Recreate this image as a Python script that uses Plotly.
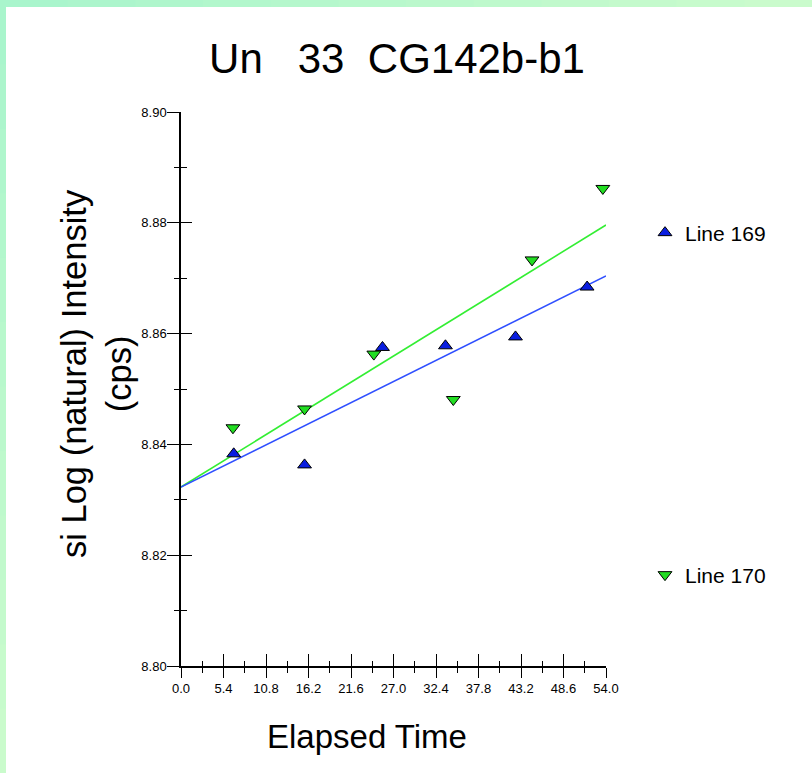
import plotly.graph_objects as go

# ---- data ----
x_line169 = [6.7, 15.7, 25.6, 33.6, 42.5, 51.6]
y_line169 = [8.8383, 8.8363, 8.8575, 8.8578, 8.8594, 8.8684]
x_line170 = [6.6, 15.7, 24.5, 34.6, 44.6, 53.6]
y_line170 = [8.8430, 8.8464, 8.8563, 8.8481, 8.8733, 8.8862]
fit_x = [0.0, 54.0]
fit_line169 = [8.8323, 8.8704]
fit_line170 = [8.8323, 8.8796]
x_range = [0.0, 54.0]
y_range = [8.80, 8.90]
x_dtick = 5.4
y_dtick = 0.02

W, H = 812, 773
L, R, T, B = 181, 206, 112, 107
PW, PH = W - L - R, H - T - B


def px(xp):
    return (xp - L) / PW


def py(yp):
    return (H - B - yp) / PH


FONT = "Liberation Sans, Arial, sans-serif"

fig = go.Figure()

fig.add_trace(go.Scatter(x=fit_x, y=fit_line170, mode="lines",
                         line=dict(color="#33ee33", width=1.6),
                         showlegend=False, hoverinfo="skip"))
fig.add_trace(go.Scatter(x=fit_x, y=fit_line169, mode="lines",
                         line=dict(color="#2f4fff", width=1.6),
                         showlegend=False, hoverinfo="skip"))
fig.add_trace(go.Scatter(x=x_line170, y=y_line170, mode="markers", name="Line 170",
                         marker=dict(symbol="triangle-down", size=12, color="#22dd22",
                                     line=dict(color="black", width=1)),
                         legend="legend2", cliponaxis=False))
fig.add_trace(go.Scatter(x=x_line169, y=y_line169, mode="markers", name="Line 169",
                         marker=dict(symbol="triangle-up", size=12, color="#0a1ee0",
                                     line=dict(color="black", width=1)),
                         legend="legend", cliponaxis=False))
# helper trace for overlay axes (crossing ticks)
fig.add_trace(go.Scatter(x=[None], y=[None], xaxis="x2", yaxis="y2",
                         showlegend=False, hoverinfo="skip"))

axis_common = dict(showgrid=False, zeroline=False, tickcolor="black", tickwidth=1.3)

fig.update_layout(
    width=W, height=H,
    margin=dict(l=L, r=R, t=T, b=B),
    paper_bgcolor="#c0f9d0",
    plot_bgcolor="white",
    font=dict(family=FONT, color="black"),
    title=dict(text="Un\u00a0\u00a0\u00a033\u00a0\u00a0CG142b-b1",
               font=dict(size=42, family=FONT, color="black"),
               x=px(397), xref="paper", xanchor="center",
               y=1 - 58 / H, yref="container", yanchor="middle"),
    xaxis=dict(range=x_range, tick0=0, dtick=x_dtick, tickformat=".1f",
               ticks="outside", ticklen=10, showline=True, linecolor="black", linewidth=1.5,
               tickfont=dict(size=13, family=FONT, color="black"),
               minor=dict(dtick=x_dtick / 2, tick0=0, ticks="outside", ticklen=5,
                          tickcolor="black", tickwidth=1.3),
               **axis_common),
    yaxis=dict(range=y_range, tick0=8.80, dtick=y_dtick, tickformat=".2f",
               ticks="outside", ticklen=12, showline=True, linecolor="black", linewidth=1.5,
               tickfont=dict(size=13, family=FONT, color="black"), ticklabelstandoff=-2,
               minor=dict(dtick=y_dtick / 2, tick0=8.80, ticks="outside", ticklen=5,
                          tickcolor="black", tickwidth=1.3),
               **axis_common),
    xaxis2=dict(range=x_range, overlaying="x", anchor="y", side="bottom",
                tick0=0, dtick=x_dtick, ticks="inside", ticklen=12, showticklabels=False,
                showline=False,
                minor=dict(dtick=x_dtick / 2, tick0=0, ticks="inside", ticklen=5,
                           tickcolor="black", tickwidth=1.3),
                **axis_common),
    yaxis2=dict(range=y_range, overlaying="y", anchor="x", side="left",
                tick0=8.80, dtick=y_dtick, ticks="inside", ticklen=11, showticklabels=False,
                showline=False,
                minor=dict(dtick=y_dtick / 2, tick0=8.80, ticks="inside", ticklen=6,
                           tickcolor="black", tickwidth=1.3),
                **axis_common),
    legend=dict(x=px(645), y=py(233), xanchor="left", yanchor="middle",
                bgcolor="rgba(0,0,0,0)", font=dict(size=21, family=FONT)),
    legend2=dict(x=px(645), y=py(575), xanchor="left", yanchor="middle",
                 bgcolor="rgba(0,0,0,0)", font=dict(size=21, family=FONT)),
)

# annotations: axis titles
fig.add_annotation(text="Elapsed Time", xref="paper", yref="paper",
                   x=px(367), y=py(736), showarrow=False,
                   font=dict(size=33, family=FONT, color="black"),
                   xanchor="center", yanchor="middle")
fig.add_annotation(text="si Log (natural) Intensity<br>(cps)", xref="paper", yref="paper",
                   x=px(97), y=py(374), showarrow=False, textangle=-90,
                   font=dict(size=34.5, family=FONT, color="black"),
                   xanchor="center", yanchor="middle")

# white page area with green gradient border (top and left)
shapes = [dict(type="rect", xref="paper", yref="paper", layer="below",
               x0=px(6), x1=px(W + 20), y0=py(H + 20), y1=py(7),
               fillcolor="white", line=dict(width=0))]
c0 = (0xa8, 0xf5, 0xcc)
c1 = (0xcc, 0xfc, 0xcc)
n = 12
for i in range(n):
    t = (i + 0.5) / n
    col = "rgb(%d,%d,%d)" % tuple(int(a + (b - a) * t) for a, b in zip(c0, c1))
    shapes.append(dict(type="rect", xref="paper", yref="paper", layer="below",
                       x0=px(W * i / n), x1=px(W * (i + 1) / n + 1), y0=py(7), y1=py(-2),
                       fillcolor=col, line=dict(width=0)))
    shapes.append(dict(type="rect", xref="paper", yref="paper", layer="below",
                       x0=px(-2), x1=px(6), y0=py(H * (i + 1) / n + 1), y1=py(H * i / n),
                       fillcolor=col, line=dict(width=0)))
fig.update_layout(shapes=shapes)

fig.write_html("out.html")
